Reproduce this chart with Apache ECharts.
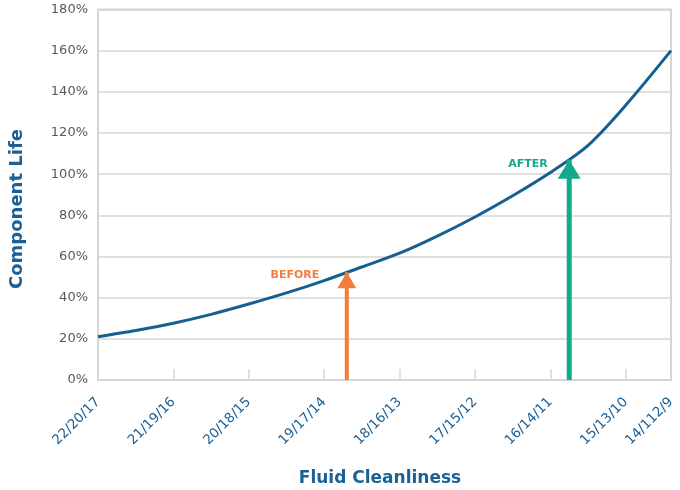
<!DOCTYPE html>
<html>
<head>
<meta charset="utf-8">
<script src="https://cdn.jsdelivr.net/npm/echarts@6/dist/echarts.min.js"></script>
<style>
  html, body { margin: 0; padding: 0; background: #fff; }
  #lifeChart { width: 680px; height: 490px; }
</style>
</head>
<body>
<div id="lifeChart"></div>
<script>
// tick labels along the bottom (last one kept as printed)
var xLabels = ["22/20/17", "21/19/16", "20/18/15", "19/17/14", "18/16/13", "17/15/12", "16/14/11", "15/13/10", "14/112/9"];
var xTicks = [0, 1, 2, 3, 4, 5, 6, 7, 7.6];

// component life curve
var curveX = [0, 0.5, 1, 1.5, 2, 2.5, 3, 3.5, 4, 4.5, 5, 5.5, 6, 6.5, 7, 7.6];
var curveY = [21, 24, 27.6, 31.9, 36.9, 42.3, 48.3, 54.9, 61.6, 69.9, 79.2, 89.5, 100.8, 114, 133.5, 160];

// before / after arrows
var beforeX = 3.3, beforeY = 52.3;
var afterX = 6.25, afterY = 107;

var blue = "#1b6196";
var orange = "#f37c3a";
var green = "#13a98b";
var font = "DejaVu Sans";

function arrowData(x, y, size, text, color, dist, off) {
  return [
    { value: [x, 0], symbol: "none" },
    {
      value: [x, y],
      symbol: "triangle",
      symbolSize: size,
      symbolOffset: [0, size[1] / 2],
      label: {
        show: true,
        position: "left",
        distance: dist,
        offset: off,
        formatter: text,
        color: color,
        fontFamily: font,
        fontWeight: "bold",
        fontSize: 11
      }
    }
  ];
}

var chart = echarts.init(document.getElementById("lifeChart"));
chart.setOption({
  animation: false,
  grid: {
    left: 98,
    right: 9,
    top: 9.5,
    bottom: 110,
    show: true,
    borderColor: "#d6d6d6",
    borderWidth: 2
  },
  xAxis: {
    type: "value",
    min: 0,
    max: 7.6,
    interval: 1,
    splitLine: { show: false },
    axisLine: { show: false },
    axisTick: { show: true, inside: true, length: 11, lineStyle: { color: "#d6d6d6", width: 1.5 } },
    axisLabel: {
      rotate: 45,
      margin: 20,
      showMinLabel: true,
      showMaxLabel: true,
      color: blue,
      fontFamily: font,
      fontSize: 13.5,
      formatter: function (v) {
        var best = 0;
        for (var i = 0; i < xTicks.length; i++) {
          if (Math.abs(xTicks[i] - v) < Math.abs(xTicks[best] - v)) best = i;
        }
        return xLabels[best];
      }
    }
  },
  yAxis: {
    type: "value",
    min: 0,
    max: 180,
    interval: 20,
    axisLine: { show: false },
    axisTick: { show: false },
    splitLine: { lineStyle: { color: "#d6d6d6", width: 1.5 } },
    axisLabel: {
      margin: 10,
      color: "#58585a",
      fontFamily: font,
      fontSize: 13,
      formatter: "{value}%"
    }
  },
  graphic: [
    {
      type: "text",
      x: 17,
      y: 209,
      rotation: Math.PI / 2,
      style: {
        text: "Component Life",
        fill: blue,
        font: "bold 18px " + font,
        align: "center",
        verticalAlign: "middle"
      }
    },
    {
      type: "text",
      x: 380,
      y: 479,
      style: {
        text: "Fluid Cleanliness",
        fill: blue,
        font: "bold 17px " + font,
        align: "center",
        verticalAlign: "middle"
      }
    }
  ],
  series: [
    {
      type: "line",
      data: curveX.map(function (x, i) { return [x, curveY[i]]; }),
      smooth: 0.3,
      symbol: "none",
      lineStyle: { color: "#155f92", width: 3 },
      z: 2
    },
    {
      type: "line",
      data: arrowData(beforeX, beforeY, [19, 16], "BEFORE", orange, 18, [0, -5]),
      showSymbol: true,
      lineStyle: { color: orange, width: 4 },
      itemStyle: { color: orange },
      emphasis: { disabled: true },
      z: 3
    },
    {
      type: "line",
      data: arrowData(afterX, afterY, [23, 19], "AFTER", green, 10, [0, -5]),
      showSymbol: true,
      lineStyle: { color: green, width: 5 },
      itemStyle: { color: green },
      emphasis: { disabled: true },
      z: 3
    }
  ]
});
</script>
</body>
</html>
